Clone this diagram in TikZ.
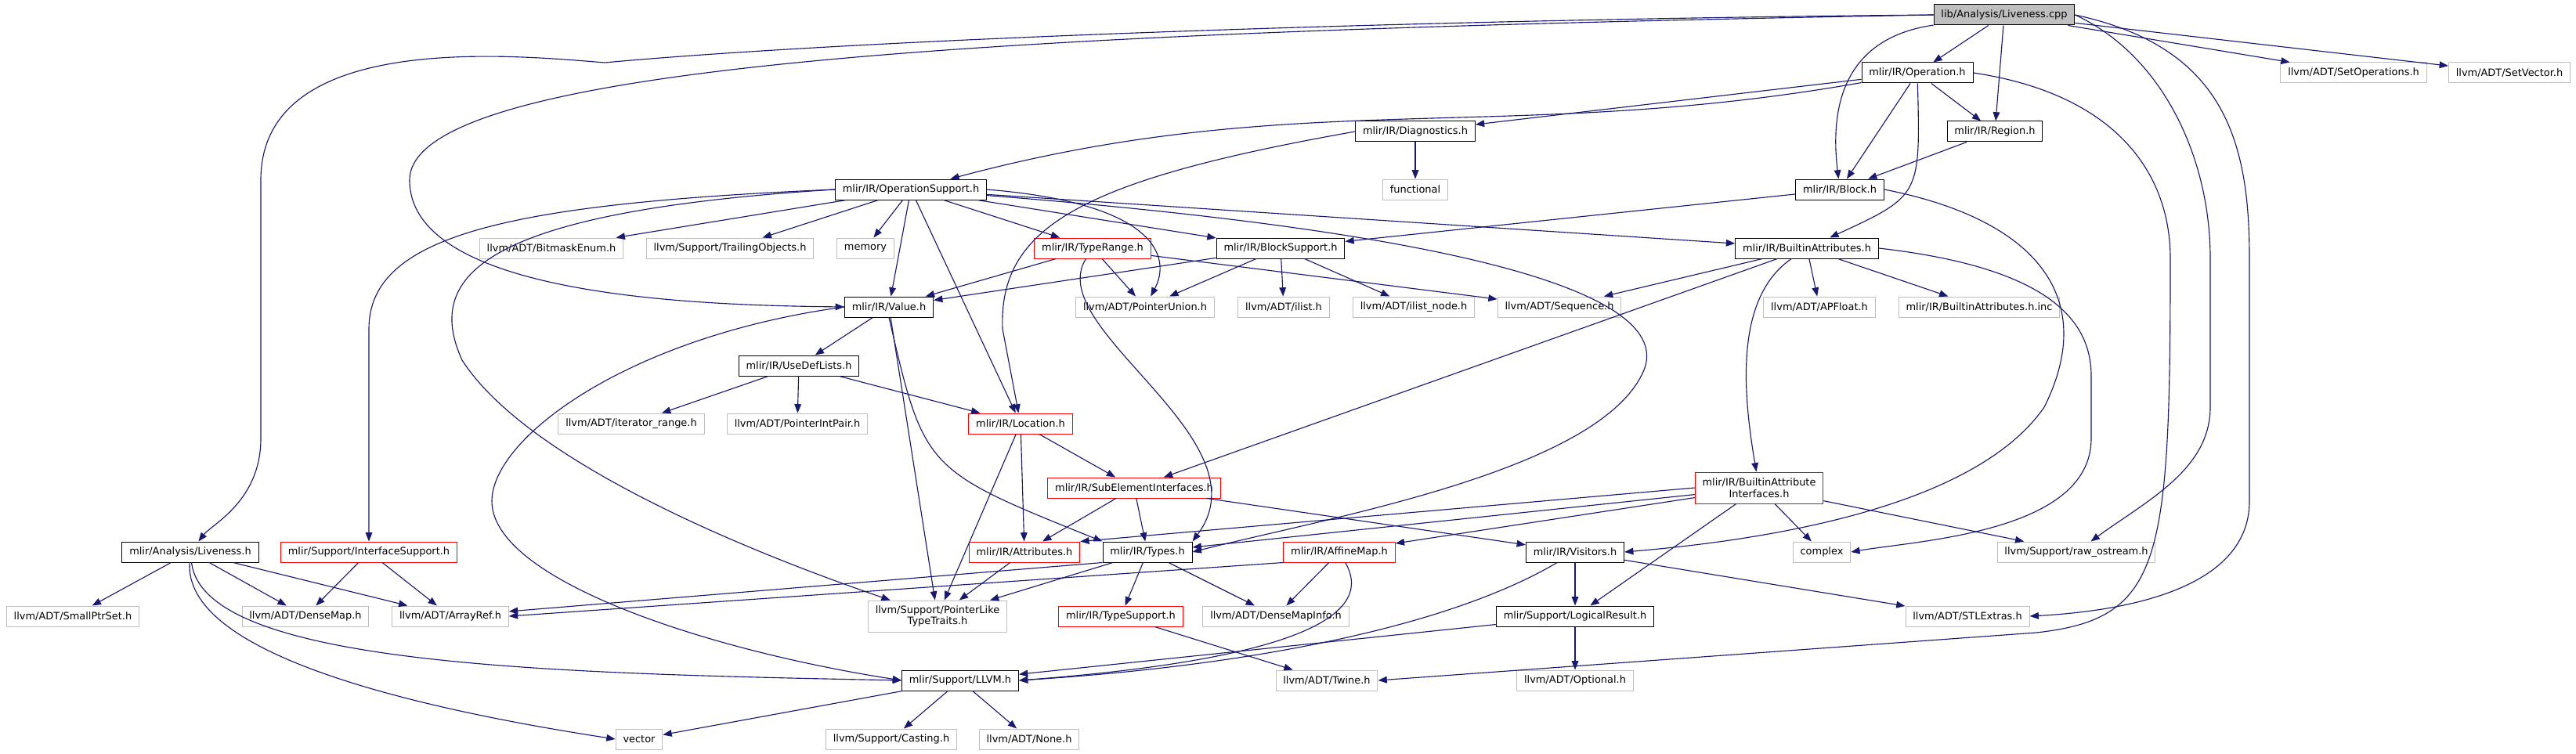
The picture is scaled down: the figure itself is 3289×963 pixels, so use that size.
\documentclass[tikz,border=0pt]{standalone}
\usepackage{fontspec}
\setmainfont{DejaVu Sans}
\usetikzlibrary{arrows.meta}
\definecolor{edgeblue}{HTML}{191970}
\definecolor{extgray}{HTML}{BFBFBF}
\definecolor{srcgray}{HTML}{BFBFBF}

\begin{document}
\begin{tikzpicture}[
x=0.75pt, y=-0.75pt,
>={Triangle[length=8.5pt,width=6.5pt]},
box/.style={
draw=#1,
fill=white,
line width=0.75pt,
minimum height=19.5pt,
inner xsep=7pt,
inner ysep=1pt,
align=center,
font=\fontsize{9.7}{11}\selectfont
},
dep/.style={->, edgeblue, line width=0.85pt}
]
\useasboundingbox (0,0) rectangle (3289,963);

% Nodes
\node[box=black, fill=srcgray] (cpp) at (2559,19) {lib/Analysis/Liveness.cpp};
\node[box=black] (op) at (2448,93) {mlir/IR/Operation.h};
\node[box=extgray] (setops) at (3005,93) {llvm/ADT/SetOperations.h};
\node[box=extgray] (setvec) at (3204,93) {llvm/ADT/SetVector.h};
\node[box=black] (diag) at (1807,168) {mlir/IR/Diagnostics.h};
\node[box=black] (region) at (2547,168) {mlir/IR/Region.h};
\node[box=black] (opsup) at (1163,242) {mlir/IR/OperationSupport.h};
\node[box=extgray] (func) at (1807,242) {functional};
\node[box=black] (block) at (2349,242) {mlir/IR/Block.h};
\node[box=extgray] (bitmask) at (704,317) {llvm/ADT/BitmaskEnum.h};
\node[box=extgray] (trailing) at (932,317) {llvm/Support/TrailingObjects.h};
\node[box=extgray] (memory) at (1105,317) {memory};
\node[box=red] (tyrange) at (1395,317) {mlir/IR/TypeRange.h};
\node[box=black] (blksup) at (1635,317) {mlir/IR/BlockSupport.h};
\node[box=black] (battr) at (2307,317) {mlir/IR/BuiltinAttributes.h};
\node[box=black] (value) at (1135,392) {mlir/IR/Value.h};
\node[box=extgray] (ptrunion) at (1462,392) {llvm/ADT/PointerUnion.h};
\node[box=extgray] (ilist) at (1639,392) {llvm/ADT/ilist.h};
\node[box=extgray] (ilistnode) at (1805,392) {llvm/ADT/ilist\_node.h};
\node[box=extgray] (sequence) at (1991,392) {llvm/ADT/Sequence.h};
\node[box=extgray] (apfloat) at (2323,392) {llvm/ADT/APFloat.h};
\node[box=extgray] (battrinc) at (2527,392) {mlir/IR/BuiltinAttributes.h.inc};
\node[box=black] (usedef) at (1020,467) {mlir/IR/UseDefLists.h};
\node[box=extgray] (iterrange) at (806,541) {llvm/ADT/iterator\_range.h};
\node[box=extgray] (ptrintpair) at (1018,541) {llvm/ADT/PointerIntPair.h};
\node[box=red] (loc) at (1303,541) {mlir/IR/Location.h};
\node[box=red] (subelem) at (1448,623) {mlir/IR/SubElementInterfaces.h};
\node[box=red, minimum height=30pt] (battrif) at (2246,623) {mlir/IR/BuiltinAttribute\\Interfaces.h};
\node[box=black] (liveh) at (243,705) {mlir/Analysis/Liveness.h};
\node[box=red] (ifsup) at (471,705) {mlir/Support/InterfaceSupport.h};
\node[box=red] (attrs) at (1308,705) {mlir/IR/Attributes.h};
\node[box=black] (types) at (1465,705) {mlir/IR/Types.h};
\node[box=red] (affine) at (1710,705) {mlir/IR/AffineMap.h};
\node[box=black] (visitors) at (2011,705) {mlir/IR/Visitors.h};
\node[box=extgray] (complex) at (2326,705) {complex};
\node[box=extgray] (rawos) at (2651,705) {llvm/Support/raw\_ostream.h};
\node[box=extgray] (smallptr) at (93,787) {llvm/ADT/SmallPtrSet.h};
\node[box=extgray] (densemap) at (390,787) {llvm/ADT/DenseMap.h};
\node[box=extgray] (arrayref) at (575,787) {llvm/ADT/ArrayRef.h};
\node[box=extgray, minimum height=30pt] (ptrlike) at (1197,787) {llvm/Support/PointerLike\\TypeTraits.h};
\node[box=red] (tysup) at (1431,787) {mlir/IR/TypeSupport.h};
\node[box=extgray] (dmapinfo) at (1629,787) {llvm/ADT/DenseMapInfo.h};
\node[box=black] (logres) at (2011,787) {mlir/Support/LogicalResult.h};
\node[box=extgray] (stlextras) at (2512,787) {llvm/ADT/STLExtras.h};
\node[box=black] (llvm) at (1226,869) {mlir/Support/LLVM.h};
\node[box=extgray] (twine) at (1694,869) {llvm/ADT/Twine.h};
\node[box=extgray] (optional) at (2011,869) {llvm/ADT/Optional.h};
\node[box=extgray] (vector) at (816,944) {vector};
\node[box=extgray] (casting) at (1138,944) {llvm/Support/Casting.h};
\node[box=extgray] (none) at (1314,944) {llvm/ADT/None.h};

% Liveness.cpp includes
\draw[dep] (cpp.west) .. controls (1800,25) and (1100,50) .. (772,80) .. controls (650,70) and (333,40) .. (333,230) -- (333,560) .. controls (333,640) and (270,670) .. (liveh);
\draw[dep] (cpp.west) .. controls (1300,40) and (523,80) .. (523,230) .. controls (523,380) and (900,390) .. (value.west);
\draw[dep] (cpp) .. controls (2345,50) and (2338,150) .. (block);
\draw[dep] (cpp) -- (op);
\draw[dep] (cpp) -- (region);
\draw[dep] (cpp) -- (setops);
\draw[dep] (cpp) -- (setvec);
\draw[dep] (cpp.east) .. controls (2760,70) and (2822,200) .. (2822,330) -- (2822,520) .. controls (2822,600) and (2740,640) .. (rawos);
\draw[dep] (cpp.east) .. controls (2840,60) and (2872,180) .. (2872,330) -- (2872,640) .. controls (2872,750) and (2720,780) .. (stlextras.east);

% Operation.h, Region.h, Diagnostics.h, Block.h
\draw[dep] (op) -- (diag);
\draw[dep] (op) to[out=190, in=15] (opsup);
\draw[dep] (op) -- (region);
\draw[dep] (op) -- (block);
\draw[dep] (op) .. controls (2452,250) .. (battr);
\draw[dep] (op.east) .. controls (2700,120) and (2771,220) .. (2771,330) .. controls (2771,720) and (2760,790) .. (2600,808) -- (twine.east);
\draw[dep] (region) -- (block);
\draw[dep] (diag) -- (func);
\draw[dep] (diag.west) .. controls (1380,230) and (1275,290) .. (1280,420) -- (loc);
\draw[dep] (block) -- (blksup);
\draw[dep] (block.east) .. controls (2600,280) and (2680,380) .. (2610,520) .. controls (2520,650) and (2250,690) .. (visitors.east);

% OperationSupport.h
\draw[dep] (opsup) -- (bitmask);
\draw[dep] (opsup) -- (trailing);
\draw[dep] (opsup) -- (memory);
\draw[dep] (opsup) -- (value);
\draw[dep] (opsup) -- (tyrange);
\draw[dep] (opsup) -- (blksup);
\draw[dep] (opsup) -- (battr);
\draw[dep] (opsup) -- (loc);
\draw[dep] (opsup.east) .. controls (1480,260) and (1495,330) .. (ptrunion);
\draw[dep] (opsup) .. controls (1900,300) and (2130,380) .. (2100,470) .. controls (2050,600) and (1700,660) .. (types.east);
\draw[dep] (opsup.west) .. controls (650,260) and (471,300) .. (471,420) -- (ifsup);
\draw[dep] (opsup.west) .. controls (620,270) and (540,350) .. (590,460) .. controls (680,600) and (1000,720) .. (ptrlike);

% TypeRange.h, BlockSupport.h
\draw[dep] (tyrange) -- (value);
\draw[dep] (tyrange) -- (ptrunion);
\draw[dep] (tyrange) -- (sequence);
\draw[dep] (tyrange) .. controls (1330,420) and (1620,560) .. (types.north east);
\draw[dep] (blksup) -- (value);
\draw[dep] (blksup) -- (ptrunion);
\draw[dep] (blksup) -- (ilist);
\draw[dep] (blksup) -- (ilistnode);

% BuiltinAttributes.h
\draw[dep] (battr) -- (sequence);
\draw[dep] (battr) -- (apfloat);
\draw[dep] (battr) -- (battrinc);
\draw[dep] (battr) -- (subelem);
\draw[dep] (battr) .. controls (2215,380) and (2225,500) .. (battrif);
\draw[dep] (battr.east) .. controls (2600,340) and (2670,400) .. (2670,480) -- (2670,560) .. controls (2670,680) and (2450,690) .. (complex.east);

% Value.h, UseDefLists.h, Location.h
\draw[dep] (value) -- (usedef);
\draw[dep] (value.south) .. controls (1180,600) .. (types.north west);
\draw[dep] (value) -- (ptrlike);
\draw[dep] (value.west) .. controls (800,430) and (628,560) .. (628,640) .. controls (628,740) and (900,830) .. (llvm.west);
\draw[dep] (usedef) -- (iterrange);
\draw[dep] (usedef) -- (ptrintpair);
\draw[dep] (usedef) -- (loc);
\draw[dep] (loc) -- (attrs);
\draw[dep] (loc) -- (subelem);
\draw[dep] (loc) -- (ptrlike);

% SubElementInterfaces.h, BuiltinAttributeInterfaces.h
\draw[dep] (subelem) -- (attrs);
\draw[dep] (subelem) -- (types);
\draw[dep] (subelem) -- (visitors);
\draw[dep] (battrif.west) -- (attrs.north east);
\draw[dep] (battrif) -- (types);
\draw[dep] (battrif) -- (affine);
\draw[dep] (battrif) -- (logres);
\draw[dep] (battrif) -- (complex);
\draw[dep] (battrif) -- (rawos);

% Liveness.h, InterfaceSupport.h
\draw[dep] (liveh) -- (smallptr);
\draw[dep] (liveh) -- (densemap);
\draw[dep] (liveh) -- (arrayref);
\draw[dep] (liveh) .. controls (235,830) and (500,900) .. (vector.west);
\draw[dep] (liveh) .. controls (260,850) and (700,860) .. (llvm.west);
\draw[dep] (ifsup) -- (densemap);
\draw[dep] (ifsup) -- (arrayref);

% Attributes.h, Types.h, AffineMap.h
\draw[dep] (attrs) -- (ptrlike);
\draw[dep] (types.south west) -- (arrayref);
\draw[dep] (types) -- (ptrlike);
\draw[dep] (types) -- (tysup);
\draw[dep] (types) -- (dmapinfo);
\draw[dep] (affine.south west) -- (arrayref.east);
\draw[dep] (affine) -- (dmapinfo);
\draw[dep] (affine) .. controls (1770,810) and (1550,850) .. (llvm.east);

% Visitors.h, LogicalResult.h, TypeSupport.h
\draw[dep] (visitors) -- (logres);
\draw[dep] (visitors) -- (stlextras);
\draw[dep] (visitors) .. controls (1850,800) and (1600,850) .. (llvm.east);
\draw[dep] (logres) -- (llvm);
\draw[dep] (logres) -- (optional);
\draw[dep] (tysup) -- (twine);

% LLVM.h
\draw[dep] (llvm) -- (vector);
\draw[dep] (llvm) -- (casting);
\draw[dep] (llvm) -- (none);

\end{tikzpicture}
\end{document}
